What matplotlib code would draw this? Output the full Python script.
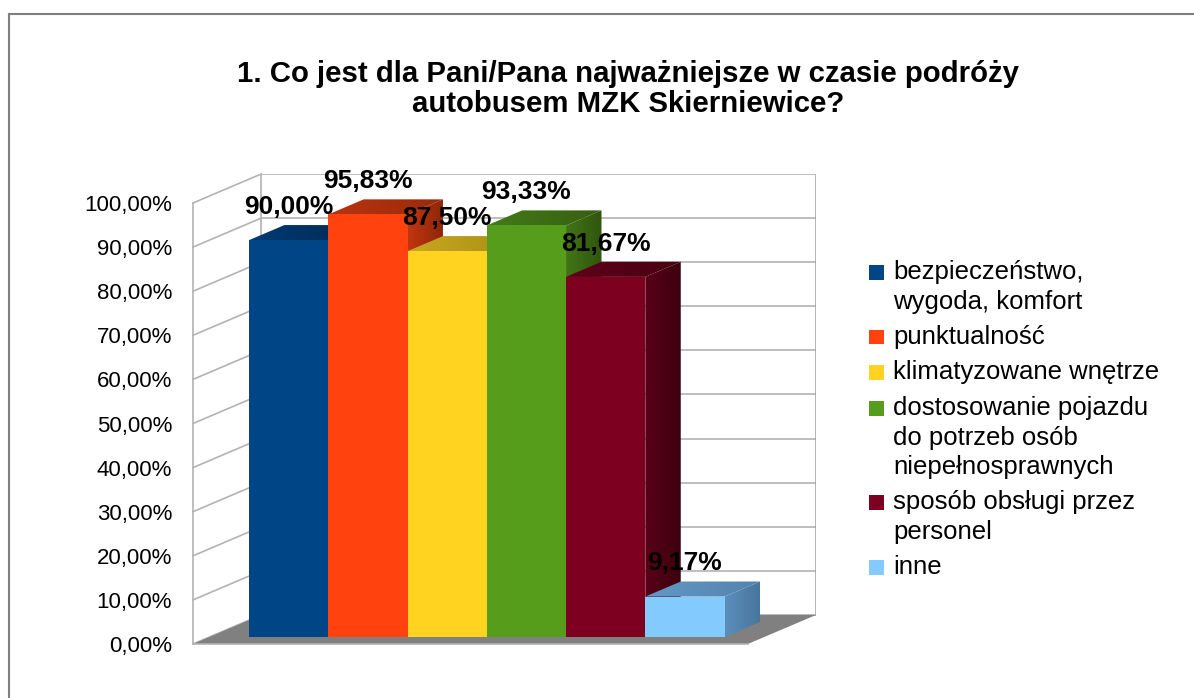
import numpy as np
import matplotlib.pyplot as plt
from matplotlib.patches import Polygon, Rectangle
from matplotlib.lines import Line2D
from matplotlib.colors import to_rgb

plt.rcParams['font.family'] = ['Liberation Sans', 'DejaVu Sans']

# data
categories = ['bezpieczeństwo,\nwygoda, komfort', 'punktualność', 'klimatyzowane wnętrze',
              'dostosowanie pojazdu\ndo potrzeb osób\nniepełnosprawnych',
              'sposób obsługi przez\npersonel', 'inne']
values = [90.00, 95.83, 87.50, 93.33, 81.67, 9.17]
value_labels = ['90,00%', '95,83%', '87,50%', '93,33%', '81,67%', '9,17%']
yticks = list(range(0, 101, 10))
ytick_labels = ['%d,00%%' % t for t in yticks]
title = '1. Co jest dla Pani/Pana najważniejsze w czasie podróży\nautobusem MZK Skierniewice?'

front_colors = ['#004586', '#ff420e', '#ffd320', '#579d1c', '#7e0021', '#83caff']
# shaded faces: (left colour, right colour) of a horizontal gradient
top_colors = [('#003a72', '#002a55'), ('#b8340f', '#9a2a0a'), ('#c9a81f', '#a88c16'),
              ('#447a18', '#365f12'), ('#5e0019', '#4a0013'), ('#6299c6', '#5283ad')]
side_colors = [('#003463', '#00264a'), ('#c2360f', '#8c2608'), ('#b29418', '#8e7612'),
               ('#427516', '#30550f'), ('#5a0018', '#3c000e'), ('#5b8fbb', '#47759c')]

W, H = 1194, 698
fig = plt.figure(figsize=(W / 100, H / 100), dpi=100)

# oblique depth of the 3d box, in data units
DX, DY = 0.86, 6.58
f1, f2 = 0.24, 0.76
x0, x1 = -1.0, 6.0
grid_c = '#b3b3b3'

ax = fig.add_axes([193 / W, (H - 644) / H, 623 / W, 470 / H])
ax.set_xlim(x0, x1 + DX)
ax.set_ylim(0, 100 + DY)
for s in ax.spines.values():
    s.set_visible(False)
ax.set_xticks([])
ax.set_yticks(yticks, ytick_labels, fontsize=16)
ax.tick_params(axis='y', length=0, pad=15)


def shaded(pts, cols, z):
    poly = Polygon(pts, closed=True, facecolor='none', edgecolor='none', zorder=z)
    ax.add_patch(poly)
    c0, c1 = np.array(to_rgb(cols[0])), np.array(to_rgb(cols[1]))
    t = np.linspace(0, 1, 64)[None, :, None]
    img = c0 + (c1 - c0) * t
    xs = [p[0] for p in pts]
    ys = [p[1] for p in pts]
    im = ax.imshow(img, extent=(min(xs), max(xs), min(ys), max(ys)), origin='lower',
                   aspect='auto', interpolation='bilinear', zorder=z)
    im.set_clip_path(poly)


# floor
ax.add_patch(Polygon([(x0, 0), (x1, 0), (x1 + DX, DY), (x0 + DX, DY)],
                     closed=True, facecolor='#808080', edgecolor='none', zorder=1))
ax.plot([x0, x1], [0, 0], color=grid_c, lw=1.2, zorder=1.5, clip_on=False)
# back wall
ax.add_patch(Rectangle((x0 + DX, DY), x1 - x0, 100, facecolor='white',
                       edgecolor='none', zorder=0.5))
ax.hlines([t + DY for t in yticks], x0 + DX, x1 + DX, color=grid_c, lw=1.2, zorder=0.8)
ax.vlines([x0 + DX], DY, 100 + DY, color=grid_c, lw=1.2, zorder=0.8)
ax.vlines([x1 + DX], DY, 100 + DY, color='#a0a0a0', lw=1.8, zorder=0.8)
# left wall
for t in yticks:
    ax.plot([x0, x0 + DX], [t, t + DY], color=grid_c, lw=1.2, zorder=0.8, clip_on=False)
ax.plot([x0, x0], [0, 100], color=grid_c, lw=1.2, zorder=0.8, clip_on=False)

# bars, left to right so the next front face hides the previous side
for i, v in enumerate(values):
    xl = i - 0.5 + f1 * DX
    xr = i + 0.5 + f1 * DX
    yb = f1 * DY
    yt = v + f1 * DY
    ddx = (f2 - f1) * DX
    ddy = (f2 - f1) * DY
    z = 2 + i
    shaded([(xl, yt), (xr, yt), (xr + ddx, yt + ddy), (xl + ddx, yt + ddy)], top_colors[i], z)
    shaded([(xr, yb), (xr + ddx, yb + ddy), (xr + ddx, yt + ddy), (xr, yt)], side_colors[i], z)
    ax.add_patch(Rectangle((xl, yb), xr - xl, yt - yb, facecolor=front_colors[i],
                           edgecolor='none', zorder=z + 0.5))

ax.set_xlim(x0, x1 + DX)
ax.set_ylim(0, 100 + DY)

for i, v in enumerate(values):
    ax.annotate(value_labels[i], (i + f1 * DX, v + f2 * DY), xytext=(0, 13),
                textcoords='offset points', ha='center', va='center',
                fontsize=19, fontweight='bold', zorder=20, annotation_clip=False)

# title
fig.text(628 / W, 1 - 89 / H, title, ha='center', va='center', fontsize=21.2,
         fontweight='bold', linespacing=1.05)

# legend
lh, gap = 29.5, 6
y = 272
for i, lab in enumerate(categories):
    lines = lab.split('\n')
    fig.add_artist(Rectangle((869 / W, 1 - (y + 7.5) / H), 15 / W, 15 / H,
                             facecolor=front_colors[i], edgecolor='none'))
    for k, ln in enumerate(lines):
        fig.text(893 / W, 1 - (y + k * lh) / H, ln, ha='left', va='center', fontsize=18.5)
    y += len(lines) * lh + gap

# outer frame
fig.add_artist(Line2D([9 / W, 9 / W], [0, 1 - 14 / H], color='#808080', lw=1.5))
fig.add_artist(Line2D([9 / W, 1], [1 - 14 / H, 1 - 14 / H], color='#808080', lw=1.5))

fig.savefig('out.png', dpi=100)
